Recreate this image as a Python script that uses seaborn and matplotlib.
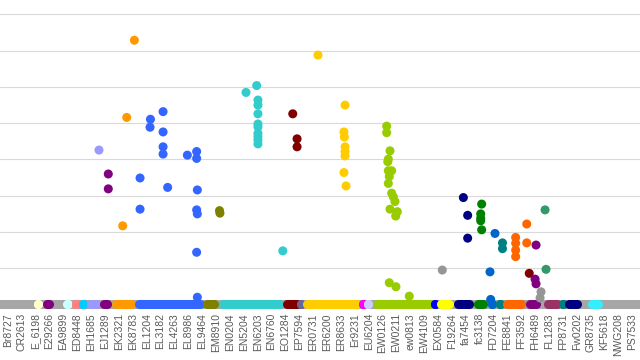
import numpy as np
import pandas as pd
import matplotlib
matplotlib.use("Agg")
import matplotlib.pyplot as plt
import seaborn as sns

# ---------------- data ----------------
sample_labels = ["Br8727", "CR2613", "E_6198", "E29266", "EA9899", "ED8448", "EH1685", "EJ1289",
                 "EK2321", "EK8783", "EL1204", "EL3182", "EL4263", "EL8986", "EL9464", "EM8910",
                 "EN0204", "EN5204", "EN6203", "EN6760", "EO1284", "EP7594", "ER0731", "ER6200",
                 "ER8633", "Er9231", "EU6204", "EW0126", "EW0211", "ew0813", "EW4109", "EX0584",
                 "F19264", "fa7454", "fc3138", "FD7204", "FE8841", "FF3592", "FH6489", "FL1283",
                 "FP8731", "Fw0202", "GR8735", "KF5618", "NWG208", "PS7533"]

# group colours (Excel palette)
group_colors = {
    "G01": "#FFFFCC", "G02": "#800080", "G03": "#CCFFFF", "G04": "#FF8080", "G05": "#00CCFF",
    "G06": "#9999FF", "G07": "#800080", "G08": "#FF9900", "G09": "#3366FF", "G10": "#808000",
    "G11": "#33CCCC", "G12": "#800000", "G13": "#666699", "G14": "#FFCC00", "G15": "#FF00FF",
    "G16": "#CCCCFF", "G17": "#99CC00", "G18": "#0000FF", "G19": "#969696", "G20": "#FFFF00",
    "G21": "#000080", "G22": "#008000", "G23": "#0066CC", "G24": "#008080", "G25": "#FF6600",
    "G26": "#800000", "G27": "#800080", "G28": "#339966", "G29": "#993366", "G30": "#008080",
    "G31": "#000080", "G32": "#33EEFF",
}

# non-zero measurements: position along the sample axis and value
g06_x = [6.56]
g06_y = [4.26]
g07_x = [7.23, 7.23]
g07_y = [3.60, 3.19]
g08_x = [9.11, 8.56, 8.27]
g08_y = [7.29, 5.16, 2.17]
g09_x = [9.52, 9.52, 10.27, 10.24, 11.18, 11.18, 11.18, 11.18, 11.51, 12.93,
         13.60, 13.60, 13.65, 13.60, 13.65, 13.60, 13.65]
g09_y = [3.49, 2.63, 5.11, 4.89, 5.32, 4.76, 4.35, 4.15, 3.23, 4.12,
         4.22, 4.03, 3.16, 2.61, 2.50, 1.44, 0.20]
g10_x = [15.25, 15.28]
g10_y = [2.59, 2.52]
g11_x = [17.16, 17.93, 18.02, 18.02, 18.02, 18.02, 18.02, 18.02, 18.02, 18.02, 18.02, 19.81]
g11_y = [5.85, 6.04, 5.64, 5.50, 5.26, 4.98, 4.90, 4.72, 4.63, 4.54, 4.43, 1.48]
g12_x = [20.53, 20.84, 20.84]
g12_y = [5.26, 4.57, 4.35]
g14_x = [22.35, 24.30, 24.22, 24.25, 24.30, 24.30, 24.30, 24.22, 24.37]
g14_y = [6.88, 5.50, 4.76, 4.62, 4.35, 4.22, 4.10, 3.64, 3.27]
g17_x = [27.30, 27.30, 27.54, 27.42, 27.38, 27.42, 27.66, 27.49, 27.42, 27.66,
         27.78, 27.90, 27.54, 28.07, 27.95, 27.49, 27.97, 28.93]
g17_y = [4.92, 4.74, 4.24, 4.01, 3.94, 3.69, 3.69, 3.53, 3.34, 3.07,
         2.97, 2.84, 2.63, 2.56, 2.44, 0.60, 0.49, 0.23]
g19_x = [31.31, 38.43, 38.36]
g19_y = [0.95, 0.35, 0.18]
g21_x = [32.83, 33.14, 33.14]
g21_y = [2.95, 2.46, 1.83]
g22_x = [34.15, 34.08, 34.08, 34.08, 34.15]
g22_y = [2.77, 2.50, 2.38, 2.31, 2.06]
g23_x = [35.11, 34.75, 34.80]
g23_y = [1.96, 0.90, 0.14]
g24_x = [35.65, 35.65]
g24_y = [1.70, 1.54]
g25_x = [37.40, 37.40, 36.60, 36.60, 36.60, 36.60]
g25_y = [2.22, 1.70, 1.85, 1.69, 1.50, 1.32]
g26_x = [37.58]
g26_y = [0.86]
g27_x = [38.07, 38.00, 38.07]
g27_y = [1.64, 0.70, 0.57]
g28_x = [38.72, 38.79]
g28_y = [2.61, 0.97]

# runs of zero-valued samples (first, last position) per group
zero_runs = [
    ("G01", 2.13, 2.13), ("G02", 2.78, 2.92), ("G03", 4.22, 4.36), ("G04", 4.90, 4.90),
    ("G05", 5.41, 5.41), ("G06", 5.95, 6.31), ("G07", 6.89, 7.17), ("G08", 7.82, 8.90),
    ("G09", 9.48, 13.81), ("G10", 14.38, 14.82), ("G11", 15.47, 19.57), ("G12", 20.15, 20.80),
    ("G13", 21.13, 21.13), ("G14", 21.59, 25.13), ("G15", 25.60, 25.60), ("G16", 25.99, 25.99),
    ("G17", 26.57, 30.39), ("G18", 30.79, 30.79), ("G20", 31.25, 31.83), ("G21", 32.41, 33.27),
    ("G22", 33.85, 34.28), ("G23", 34.86, 34.86), ("G24", 35.44, 35.44), ("G25", 36.01, 37.02),
    ("G27", 37.60, 38.10), ("G29", 38.90, 39.55), ("G30", 40.01, 40.01), ("G31", 40.48, 40.99),
    ("G32", 42.14, 42.57),
]

point_sets = [("G06", g06_x, g06_y), ("G07", g07_x, g07_y), ("G08", g08_x, g08_y),
              ("G09", g09_x, g09_y), ("G10", g10_x, g10_y), ("G11", g11_x, g11_y),
              ("G12", g12_x, g12_y), ("G14", g14_x, g14_y), ("G17", g17_x, g17_y),
              ("G19", g19_x, g19_y), ("G21", g21_x, g21_y), ("G22", g22_x, g22_y),
              ("G23", g23_x, g23_y), ("G24", g24_x, g24_y), ("G25", g25_x, g25_y),
              ("G26", g26_x, g26_y), ("G27", g27_x, g27_y), ("G28", g28_x, g28_y)]

rows = []
for g, xs, ys in point_sets:
    for xv, yv in zip(xs, ys):
        rows.append({"x": xv, "y": yv, "group": g})
df = pd.DataFrame(rows)

# ---------------- plot ----------------
sns.set_theme(style="white")
plt.rcParams["font.family"] = ["Liberation Sans", "DejaVu Sans"]

fig = plt.figure(figsize=(6.4, 3.6), dpi=100)
ax = fig.add_axes([0.0, 0.1421, 1.0, 0.8579])

ax.set_xlim(-0.577, 45.565)
ax.set_ylim(-0.12, 8.4)

for v in range(1, 9):
    ax.axhline(v, color="#D9D9D9", lw=0.8, zorder=0)

marker_pt = 6.5
ax.axhline(0, color="#A6A6A6", lw=marker_pt, zorder=1, clip_on=False)

for g, x0, x1 in zero_runs:
    c = group_colors[g]
    if x1 > x0:
        ax.hlines(0, x0, x1, colors=c, lw=marker_pt, zorder=2, clip_on=False)
    ax.scatter([x0, x1], [0, 0], s=marker_pt ** 2, color=c, linewidths=0, zorder=2, clip_on=False)

sns.scatterplot(data=df, x="x", y="y", hue="group", palette=group_colors, s=marker_pt ** 2,
                linewidth=0, legend=False, ax=ax, zorder=3, clip_on=False)

ax.set_xticks(range(len(sample_labels)))
ax.set_xticklabels(sample_labels, rotation=90, fontsize=7.5, color="#595959")
ax.set_yticks([])
ax.tick_params(axis="x", length=0, pad=3)
ax.set_xlabel("")
ax.set_ylabel("")
for s in ax.spines.values():
    s.set_visible(False)

fig.savefig("out.png", dpi=100)
